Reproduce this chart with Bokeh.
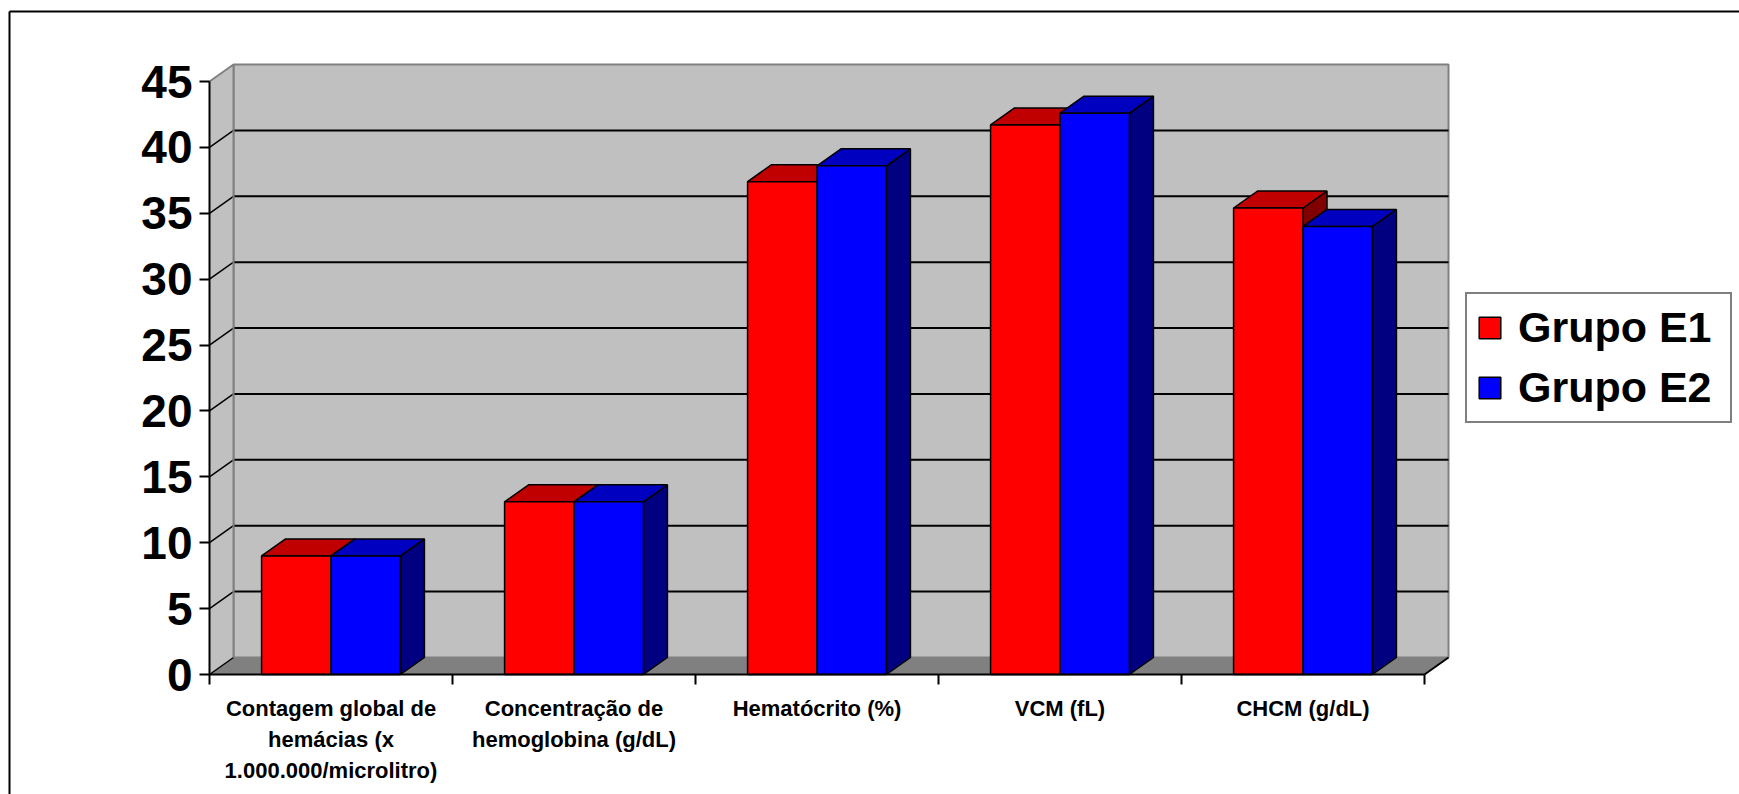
from bokeh.plotting import figure
from bokeh.models import Range1d, LinearAxis, FixedTicker, Legend, LegendItem
from bokeh.embed import file_html
from bokeh.resources import INLINE

# ---- data -------------------------------------------------------------
categories = [
    "Contagem global de\nhemácias (x\n1.000.000/microlitro)",
    "Concentração de\nhemoglobina (g/dL)",
    "Hematócrito (%)",
    "VCM (fL)",
    "CHCM (g/dL)",
]
series_names = ["Grupo E1", "Grupo E2"]
grupo_e1 = [9.0, 13.1, 37.4, 41.7, 35.4]
grupo_e2 = [9.0, 13.1, 38.6, 42.6, 34.0]
y_ticks = [0, 5, 10, 15, 20, 25, 30, 35, 40, 45]

# ---- layout (canvas pixels) ------------------------------------------
W, H = 1739, 794
ORIGIN_X, ORIGIN_Y = 209, 674          # front-left corner of the floor
CAT_PX = 243                           # width of one category slot
UNIT_PX = (674 - 81) / 45              # pixels per value unit
DEPTH_X, DEPTH_Y = 24, 17              # oblique depth of the 3-D box

FONT = "Liberation Sans"
FACE = ["#ff0000", "#0000ff"]
TOP = ["#c00000", "#0000c0"]
SIDE = ["#800000", "#000080"]
WALL = "#c0c0c0"
FLOOR = "#808080"
EDGE = "#808080"

n = len(categories)
ymax = y_ticks[-1]
dx = DEPTH_X / CAT_PX
dy = DEPTH_Y / UNIT_PX


def px_x(px):
    return (px - ORIGIN_X) / CAT_PX


def px_y(py):
    return (ORIGIN_Y - py) / UNIT_PX


p = figure(
    width=W, height=H,
    x_range=Range1d(px_x(0), px_x(W)),
    y_range=Range1d(px_y(H), px_y(0)),
    x_axis_location=None, y_axis_location=None,
    toolbar_location=None, output_backend="svg",
    min_border=0, outline_line_color=None,
    background_fill_color="white", border_fill_color="white",
)
p.xgrid.visible = False
p.ygrid.visible = False

# chart area border (top and left edges)
p.segment(x0=[px_x(9), px_x(9)], y0=[px_y(11), px_y(11)],
          x1=[px_x(W + 5), px_x(9)], y1=[px_y(11), px_y(H + 5)],
          line_color="black", line_width=2)

# ---- 3-D box: back wall, side wall, floor ----------------------------
p.patch(x=[dx, n + dx, n + dx, dx], y=[dy, dy, ymax + dy, ymax + dy],
        fill_color=WALL, line_color=EDGE, line_width=2)
p.patch(x=[0, dx, dx, 0], y=[0, dy, ymax + dy, ymax],
        fill_color=WALL, line_color=None)
p.patch(x=[0, n, n + dx, dx], y=[0, 0, dy, dy],
        fill_color=FLOOR, line_color=None)

# gridlines on the back wall and their oblique lead-ins on the side wall
inner = y_ticks[1:-1]
p.segment(x0=dx, y0=[t + dy for t in inner], x1=n + dx, y1=[t + dy for t in inner],
          line_color="black", line_width=2)
p.segment(x0=0, y0=y_ticks[:-1], x1=dx, y1=[t + dy for t in y_ticks[:-1]],
          line_color="black", line_width=1.5)
p.segment(x0=[0], y0=[ymax], x1=[dx], y1=[ymax + dy], line_color=EDGE, line_width=2)
p.segment(x0=[dx], y0=[dy], x1=[dx], y1=[ymax + dy], line_color=EDGE, line_width=2)
p.segment(x0=[n], y0=[0], x1=[n + dx], y1=[dy], line_color="black", line_width=2)

# ---- 3-D columns ------------------------------------------------------
bar_w = 1 / 3.5
gap = (1 - 2 * bar_w) / 2
fronts = []
for s, vals in enumerate([grupo_e1, grupo_e2]):
    lefts = [i + gap + s * bar_w for i in range(n)]
    rights = [l + bar_w for l in lefts]
    p.patches(
        xs=[[r, r + dx, r + dx, r] for r in rights],
        ys=[[0, dy, v + dy, v] for v in vals],
        fill_color=SIDE[s], line_color="black", line_width=1.5,
    )
    p.patches(
        xs=[[l, r, r + dx, l + dx] for l, r in zip(lefts, rights)],
        ys=[[v, v, v + dy, v + dy] for v in vals],
        fill_color=TOP[s], line_color="black", line_width=1.5,
    )
    fronts.append(p.quad(left=lefts, right=rights, bottom=0, top=vals,
                         fill_color=FACE[s], line_color="black", line_width=1.5))

# ---- axes ---------------------------------------------------------------
yaxis = LinearAxis(
    fixed_location=0, bounds=(0, ymax),
    ticker=FixedTicker(ticks=y_ticks, minor_ticks=[]),
    axis_line_color="black", axis_line_width=2,
    major_tick_line_color="black", major_tick_line_width=2,
    major_tick_out=10, major_tick_in=0,
    major_label_standoff=7,
    major_label_text_font=FONT, major_label_text_font_style="bold",
    major_label_text_font_size="46px", major_label_text_color="black",
)
p.add_layout(yaxis, "left")

centers = [i + 0.5 for i in range(n)]
xaxis = LinearAxis(
    fixed_location=0, bounds=(0, n),
    ticker=FixedTicker(ticks=centers, minor_ticks=list(range(n + 1))),
    major_label_overrides={c: lab for c, lab in zip(centers, categories)},
    axis_line_color="black", axis_line_width=2,
    major_tick_line_color=None, major_tick_out=0, major_tick_in=0,
    minor_tick_line_color="black", minor_tick_line_width=2,
    minor_tick_out=10, minor_tick_in=0,
    major_label_standoff=11,
    major_label_text_font=FONT, major_label_text_font_style="bold",
    major_label_text_font_size="22px", major_label_text_color="black",
    major_label_text_line_height=1.25,
)
p.add_layout(xaxis, "below")

# ---- legend -------------------------------------------------------------
legend = Legend(
    items=[LegendItem(label=name, renderers=[r]) for name, r in zip(series_names, fronts)],
    location=(1465, H - 423), margin=0,
    padding=9, spacing=11,
    glyph_width=27, glyph_height=27, label_standoff=15, label_width=203,
    label_text_font=FONT, label_text_font_style="bold",
    label_text_font_size="43px", label_text_color="black",
    border_line_color="black", border_line_width=2,
    background_fill_color="white", background_fill_alpha=1,
)
p.add_layout(legend)

open("out.html", "w").write(file_html(p, INLINE))
